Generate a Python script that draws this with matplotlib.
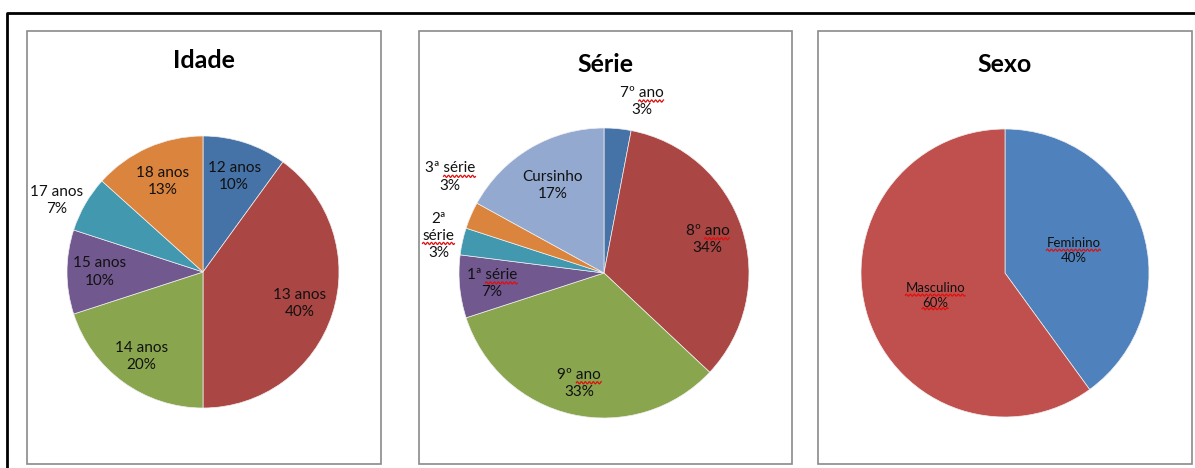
import matplotlib
matplotlib.use('Agg')
import matplotlib.pyplot as plt
import numpy as np
from matplotlib.patches import Rectangle
from matplotlib.lines import Line2D
from matplotlib.transforms import IdentityTransform

plt.rcParams['font.family'] = ['Lato', 'DejaVu Sans']

# Data
idade_labels = ['12 anos', '13 anos', '14 anos', '15 anos', '17 anos', '18 anos']
idade_counts = [3, 12, 6, 3, 2, 4]
idade_colors = ['#4572A7', '#AA4643', '#89A54E', '#71588F', '#4198AF', '#DB843D']

serie_labels = ['7º ano', '8º ano', '9º ano', '1ª série', '2ª\nsérie', '3ª série', 'Cursinho']
serie_pcts = [3, 34, 33, 7, 3, 3, 17]
serie_colors = ['#4572A7', '#AA4643', '#89A54E', '#71588F', '#4198AF', '#DB843D', '#93A9CF']

sexo_labels = ['Feminino', 'Masculino']
sexo_pcts = [40, 60]
sexo_colors = ['#4F81BD', '#C0504D']

# words marked by the spell checker in the original (red squiggle)
squiggle_words = {'ano', 'série', 'Feminino', 'Masculino', '60%'}

W, H = 1195, 468
fig = plt.figure(figsize=(W / 100, H / 100), dpi=100)
fig.patch.set_facecolor('white')

# outer frame (open at right/bottom, cut by image edge)
fig.add_artist(Line2D([7 / W, 7 / W, 1], [0, 1 - 13 / H, 1 - 13 / H],
                      transform=fig.transFigure, color='black', lw=2))

all_texts = []


def panel(x0, x1, y0, y1, title, title_y):
    fig.add_artist(Rectangle((x0 / W, 1 - y1 / H), (x1 - x0) / W, (y1 - y0) / H,
                             transform=fig.transFigure, fill=False,
                             edgecolor='#8a8a8a', lw=1.2))
    fig.text((x0 + x1) / 2 / W, 1 - title_y / H, title, ha='center', va='center',
             fontsize=18, fontweight='bold', color='black')


def draw_pie(cx, cy, r, values, labels, colors, dists, shifts, fs):
    ax = fig.add_axes([(cx - r) / W, 1 - (cy + r) / H, 2 * r / W, 2 * r / H])
    wedges, _ = ax.pie(values, colors=colors, startangle=90, counterclock=False,
                       radius=1, wedgeprops=dict(edgecolor='#f0f0f0', linewidth=0.5))
    ax.set_xlim(-1, 1)
    ax.set_ylim(-1, 1)
    ax.axis('off')
    total = float(sum(values))
    for w, v, lab, d, s in zip(wedges, values, labels, dists, shifts):
        ang = np.deg2rad((w.theta1 + w.theta2) / 2 - s)
        txt = '%s\n%d%%' % (lab, round(v / total * 100))
        t = ax.text(d * np.cos(ang), d * np.sin(ang), txt, ha='center', va='center',
                    fontsize=fs, color='#111111', linespacing=1.3)
        all_texts.append(t)
    return ax


panel(27, 381, 31, 464, 'Idade', 60)
panel(419, 792, 31, 464, 'Série', 64)
panel(818, 1192, 31, 464, 'Sexo', 65)

draw_pie(203, 272, 136, idade_counts, idade_labels, idade_colors,
         [0.74, 0.75, 0.77, 0.76, 1.2, 0.73], [0, 0, 0, 0, -4, 0], 11)
draw_pie(604, 273, 145, serie_pcts, serie_labels, serie_colors,
         [1.21, 0.75, 0.78, 0.775, 1.17, 1.25, 0.70], [7, 0, 0, 0, 0, 8.6, 0], 11)
draw_pie(1005, 273, 144, sexo_pcts, sexo_labels, sexo_colors,
         [0.5, 0.51], [0, 0], 9.5)

# red wavy underlines under flagged words
fig.canvas.draw()
rend = fig.canvas.get_renderer()
for t in all_texts:
    lines = t.get_text().split('\n')
    bb = t.get_window_extent(rend)
    prop = t.get_fontproperties()
    lh = bb.height / len(lines)
    cx = (bb.x0 + bb.x1) / 2
    for i, line in enumerate(lines):
        words = line.split(' ')
        lw_, _, _ = rend.get_text_width_height_descent(line, prop, ismath=False)
        x = cx - lw_ / 2
        base = bb.y1 - (i + 1) * lh + lh * 0.04
        for j, wd in enumerate(words):
            ww, _, _ = rend.get_text_width_height_descent(wd, prop, ismath=False)
            if wd in squiggle_words:
                xs = np.linspace(x, x + ww, 60)
                ys = base + 1.1 * np.sin(2 * np.pi * (xs - x) / 4.0)
                fig.add_artist(Line2D(xs, ys, transform=IdentityTransform(),
                                      color='#e01010', lw=0.9))
            sp, _, _ = rend.get_text_width_height_descent(wd + ' ', prop, ismath=False)
            x += sp if j < len(words) - 1 else ww

fig.savefig('out.png', dpi=100)
